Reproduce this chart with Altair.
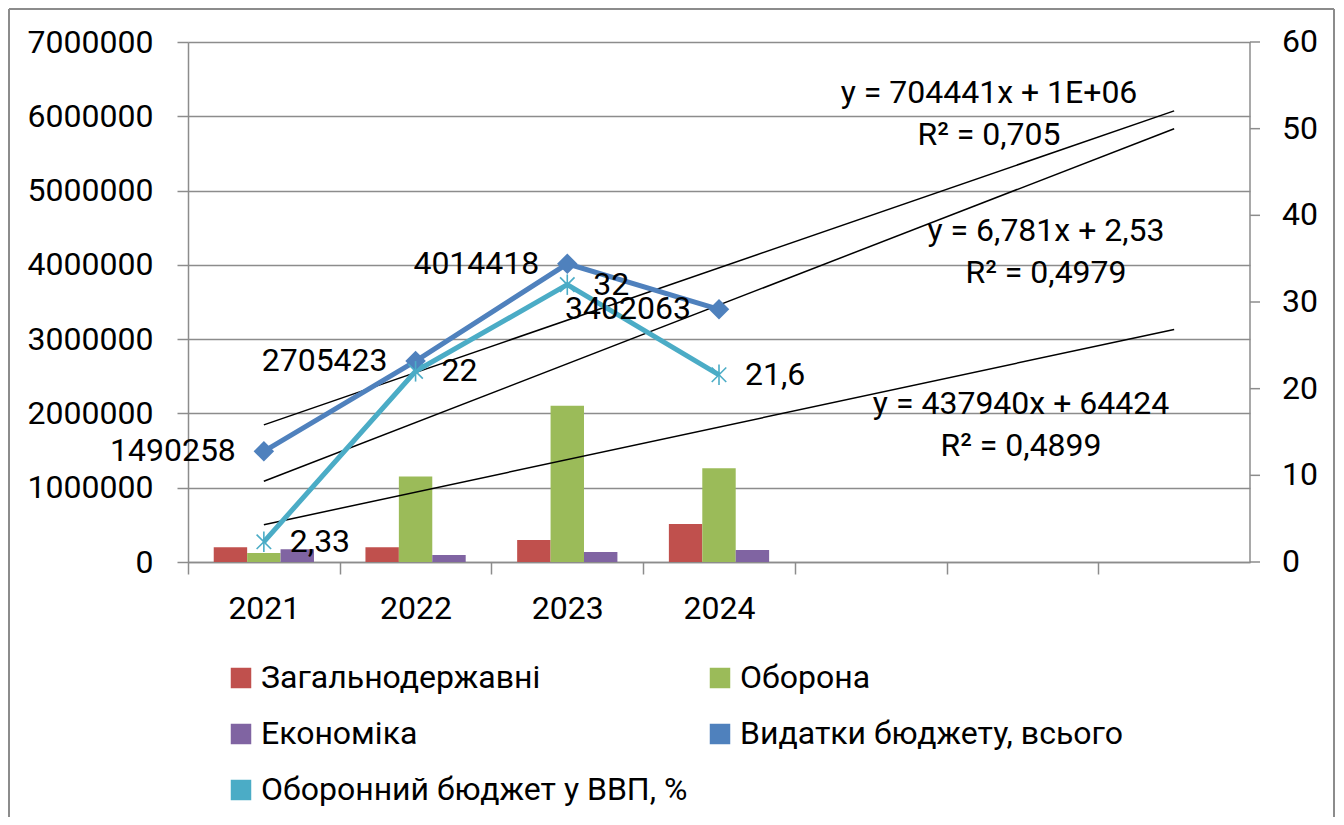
import altair as alt
import pandas as pd
import numpy as np

# ---------------- data ----------------
years = ["2021", "2022", "2023", "2024"]
empty_cats = ["_5", "_6", "_7"]          # empty forecast slots of the category axis
categories = years + empty_cats

general = [200000, 200000, 296000, 510000]       # Загальнодержавні
defense = [120000, 1150000, 2105000, 1262000]    # Оборона
economy = [172000, 95000, 135000, 160000]        # Економіка
total = [1490258, 2705423, 4014418, 3402063]     # Видатки бюджету, всього
gdp_share = [2.33, 22, 32, 21.6]                 # Оборонний бюджет у ВВП, %
gdp_labels = ["2,33", "22", "32", "21,6"]
total_labels = ["1490258", "2705423", "4014418", "3402063"]

bar_series = ["Загальнодержавні", "Оборона", "Економіка"]
line_series = ["Видатки бюджету, всього", "Оборонний бюджет у ВВП, %"]
bar_colors = ["#C0504D", "#9BBB59", "#8064A2"]
line_colors = ["#4F81BD", "#4BACC6"]

eq_total = ["y = 704441x + 1E+06", "R² = 0,705"]
eq_share = ["y = 6,781x + 2,53", "R² = 0,4979"]
eq_defense = ["y = 437940x + 64424", "R² = 0,4899"]

left_ticks = list(range(0, 7000001, 1000000))
right_ticks = list(range(0, 61, 10))
LEFT_MAX = 7000000
RIGHT_MAX = 60

# ---------------- styling ----------------
FONT = "Roboto"
FS = 32
GRID = "#8c8c8c"
W, H = 1062, 520
STEP = W / len(categories)
STAR_ANGLES = [90, 45, 135]

# legend fills column by column: order entries so rows read like the original
legend_order = [bar_series[0], bar_series[2], line_series[1], bar_series[1], line_series[0]]
color_of = dict(zip(bar_series + line_series, bar_colors + line_colors))
legend_colors = [color_of[s] for s in legend_order]

# ---------------- tables ----------------
bars_df = pd.DataFrame({
    "year": years * 3,
    "series": sum([[s] * 4 for s in bar_series], []),
    "value": general + defense + economy,
})
total_df = pd.DataFrame({"year": years, "value": total, "label": total_labels,
                         "series": [line_series[0]] * 4})
share_df = pd.DataFrame({"year": years, "share": gdp_share, "label": gdp_labels,
                         "series": [line_series[1]] * 4})


def trend(vals, col):
    xs = np.arange(1, len(vals) + 1)
    k, b = np.polyfit(xs, np.array(vals, dtype=float), 1)
    xi = [1, len(categories)]
    return pd.DataFrame({"year": [categories[i - 1] for i in xi],
                         col: [float(k * i + b) for i in xi]})


tr_total = trend(total, "value")
tr_defense = trend(defense, "value")
tr_share = trend(gdp_share, "share")

to_left = f"datum.share * {LEFT_MAX} / {RIGHT_MAX}"


def px_to_value(py):
    return (H - py) / H * LEFT_MAX


x_enc = alt.X(
    "year:N",
    scale=alt.Scale(domain=categories, paddingInner=0, paddingOuter=0),
    axis=alt.Axis(
        title=None, labelAngle=0, tickSize=12, tickOffset=-STEP / 2, labelOffset=STEP / 2,
        labelPadding=19, domainColor=GRID, tickColor=GRID, domainWidth=1.5, tickWidth=1.5,
        labelExpr="slice(datum.value,0,1)=='_' ? '' : datum.value",
    ),
)
left_axis = alt.Axis(
    title=None, values=left_ticks, grid=True, gridColor=GRID, format="d",
    gridWidth=1.5, domainColor=GRID, domainWidth=1.5, tickColor=GRID,
    tickWidth=1.5, tickSize=11, labelPadding=24,
)
yl = alt.Y("value:Q", scale=alt.Scale(domain=[0, LEFT_MAX], nice=False), axis=left_axis)

color_enc = alt.Color(
    "series:N",
    scale=alt.Scale(domain=legend_order, range=legend_colors),
    legend=alt.Legend(
        title=None, orient="none", legendX=37, legendY=620, columns=2,
        symbolType="square", symbolSize=420, labelFont=FONT, labelFontSize=FS,
        labelColor="black", labelLimit=0, columnPadding=16, rowPadding=24,
        symbolStrokeWidth=0,
    ),
)

bars = alt.Chart(bars_df).mark_bar().encode(
    x=x_enc,
    xOffset=alt.XOffset("series:N", scale=alt.Scale(domain=bar_series, paddingOuter=0.77, paddingInner=0)),
    y=yl,
    color=color_enc,
)

trend_total = alt.Chart(tr_total).mark_line(color="black", strokeWidth=1.5).encode(x=x_enc, y=yl)
trend_def = alt.Chart(tr_defense).mark_line(color="black", strokeWidth=1.5).encode(x=x_enc, y=yl)
trend_share = alt.Chart(tr_share).transform_calculate(value=to_left).mark_line(
    color="black", strokeWidth=1.5).encode(x=x_enc, y=yl)

total_line = alt.Chart(total_df).mark_line(strokeWidth=5).encode(x=x_enc, y=yl, color=color_enc)
total_pts = alt.Chart(total_df).mark_point(
    shape="diamond", filled=True, size=420, opacity=1
).encode(x=x_enc, y=yl, color=color_enc)
total_txt = alt.Chart(total_df).mark_text(
    align="right", baseline="middle", dx=-28, font=FONT, fontSize=FS, color="black"
).encode(x=x_enc, y=yl, text="label:N")

share_line = alt.Chart(share_df).transform_calculate(value=to_left).mark_line(
    strokeWidth=5).encode(x=x_enc, y=yl, color=color_enc)
share_pts = [
    alt.Chart(share_df).transform_calculate(value=to_left).mark_point(
        shape="stroke", angle=a, filled=False, size=420, strokeWidth=1.6, opacity=1
    ).encode(x=x_enc, y=yl, color=color_enc)
    for a in STAR_ANGLES
]
share_txt = alt.Chart(share_df).transform_calculate(value=to_left).mark_text(
    align="left", baseline="middle", dx=26, font=FONT, fontSize=FS, color="black"
).encode(x=x_enc, y=yl, text="label:N")

# secondary (right) axis drawn through the same y scale
rt_df = pd.DataFrame({"share": right_ticks})
rt_ticks = alt.Chart(rt_df).transform_calculate(value=to_left).mark_rule(
    color=GRID, strokeWidth=1.5).encode(x=alt.value(W), x2=alt.value(W + 10), y=yl)
rt_labels = alt.Chart(rt_df).transform_calculate(value=to_left).mark_text(
    align="left", baseline="middle", font=FONT, fontSize=FS, color="black").encode(
    x=alt.value(W + 32), y=yl, text="share:Q")
rt_dom_df = pd.DataFrame({"share": [right_ticks[0]], "share2": [right_ticks[-1]]})
rt_domain = alt.Chart(rt_dom_df).transform_calculate(
    value=to_left, value2=f"datum.share2 * {LEFT_MAX} / {RIGHT_MAX}"
).mark_rule(color=GRID, strokeWidth=1.5).encode(x=alt.value(W), y=yl, y2="value2:Q")


# trend-equation labels, anchored to the second-last category slot
def eq_layer(lines, px, py):
    anchor = categories[-2]
    cx = (len(categories) - 1.5) * STEP
    df = pd.DataFrame({
        "year": [anchor] * len(lines),
        "value": [px_to_value(py + 42 * j) for j in range(len(lines))],
        "txt": lines,
    })
    return alt.Chart(df).mark_text(
        align="center", baseline="middle", font=FONT, fontSize=FS, color="black", dx=px - cx
    ).encode(x=x_enc, y=yl, text="txt:N")


eqs = [eq_layer(eq_total, 801, 51), eq_layer(eq_share, 858, 189), eq_layer(eq_defense, 833, 362)]

# chart frame (left, right and top edges)
frame_v = pd.DataFrame({"value": [px_to_value(-33)], "value2": [px_to_value(775)]})
frame_t = pd.DataFrame({"value": [px_to_value(-33)]})
frame = [
    alt.Chart(frame_v).mark_rule(color=GRID, strokeWidth=2).encode(x=alt.value(-179), y=yl, y2="value2:Q"),
    alt.Chart(frame_v).mark_rule(color=GRID, strokeWidth=2).encode(x=alt.value(1146), y=yl, y2="value2:Q"),
    alt.Chart(frame_t).mark_rule(color=GRID, strokeWidth=2).encode(x=alt.value(-179), x2=alt.value(1146), y=yl),
]

chart = alt.layer(
    bars, trend_def, trend_total, trend_share, total_line, share_line, total_pts, *share_pts,
    total_txt, share_txt, rt_domain, rt_ticks, rt_labels, *eqs, *frame
).properties(
    width=W, height=H,
    autosize=alt.AutoSizeParams(type="none"),
    padding={"left": 180, "top": 34, "right": 86, "bottom": 255},
).configure_view(stroke=None).configure_axis(
    labelFont=FONT, labelFontSize=FS, labelColor="black"
)

chart.save("out.html", embed_options={"renderer": "svg", "actions": False})
